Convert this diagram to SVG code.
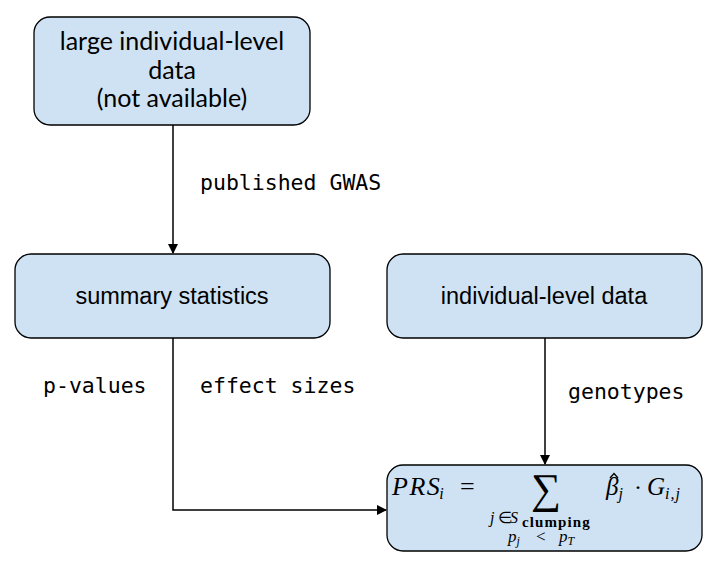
<svg xmlns="http://www.w3.org/2000/svg" width="722" height="571" viewBox="0 0 722 571">
<style>
.box{fill:#cfe2f3;stroke:#000;stroke-width:1.3}
.t{font-family:"Liberation Sans",Arial,sans-serif;font-size:23.5px;fill:#000;text-anchor:middle}
.t1{font-family:Lato,"Open Sans",sans-serif;font-size:25px;fill:#000;text-anchor:middle}
.lbl{font-family:"DejaVu Sans Mono",monospace;font-size:21.5px;fill:#000}
.m{font-family:"Liberation Serif","Times New Roman",serif;font-style:italic;fill:#000}
.r{font-family:"Liberation Serif","Times New Roman",serif;font-style:normal;fill:#000}
.c{fill:none;stroke:#000;stroke-width:1.5}
</style>
<defs>
<marker id="ah" markerWidth="10" markerHeight="10" refX="9" refY="5" orient="auto" markerUnits="userSpaceOnUse">
<path d="M0,0 L10,5 L0,10 Z" fill="#000"/>
</marker>
</defs>
<rect width="722" height="571" fill="#fff"/>
<g id="connectors">
<path class="c" d="M173,125 V253" marker-end="url(#ah)"/>
<path class="c" d="M173,338 V510 H386" marker-end="url(#ah)"/>
<path class="c" d="M545,338 V464" marker-end="url(#ah)"/>
<text class="lbl" x="200" y="190">published GWAS</text>
<text class="lbl" x="43" y="393">p-values</text>
<text class="lbl" x="200" y="393">effect sizes</text>
<text class="lbl" x="568" y="399">genotypes</text>
</g>
<g id="large-data">
<rect class="box" x="34" y="17" width="276" height="108" rx="16"/>
<text class="t1" x="172" y="50">large individual-level</text>
<text class="t1" x="172" y="79">data</text>
<text class="t1" x="172" y="107">(not available)</text>
</g>
<g id="summary-statistics">
<rect class="box" x="15" y="254" width="315" height="84" rx="16"/>
<text class="t" x="172" y="304">summary statistics</text>
</g>
<g id="individual-data">
<rect class="box" x="387" y="254" width="315" height="84" rx="16"/>
<text class="t" x="544" y="304">individual-level data</text>
</g>
<g id="prs">
<rect class="box" x="387" y="465" width="315" height="86" rx="16"/>
<text class="m" x="392" y="495" font-size="26" letter-spacing="1.5">PRS<tspan font-size="16" dx="-2" dy="4">i</tspan><tspan class="r" font-size="26" x="460" dy="-4">=</tspan></text>
<text class="r" x="531" y="503" font-size="42">∑</text>
<text class="m" x="606" y="495" font-size="25">β<tspan font-size="16" dy="4">j</tspan><tspan class="r" font-size="24" x="634" dy="-4">·</tspan><tspan x="647">G</tspan><tspan font-size="16" dy="4" letter-spacing="1">i,j</tspan></text>
<path d="M610,478 L614,473.5 L618,478" fill="none" stroke="#000" stroke-width="1.3"/>
<text class="m" x="490" y="523" font-size="16">j<tspan class="r" x="498">∈</tspan><tspan x="510">S</tspan><tspan class="r" x="522" dy="4" font-size="15" font-weight="bold" letter-spacing="1.1">clumping</tspan></text>
<text class="m" x="508" y="542" font-size="17">p<tspan font-size="12" dy="3">j</tspan><tspan class="r" x="536" dy="-3">&lt;</tspan><tspan x="559">p</tspan><tspan font-size="12" dy="3">T</tspan></text>
</g>
</svg>
